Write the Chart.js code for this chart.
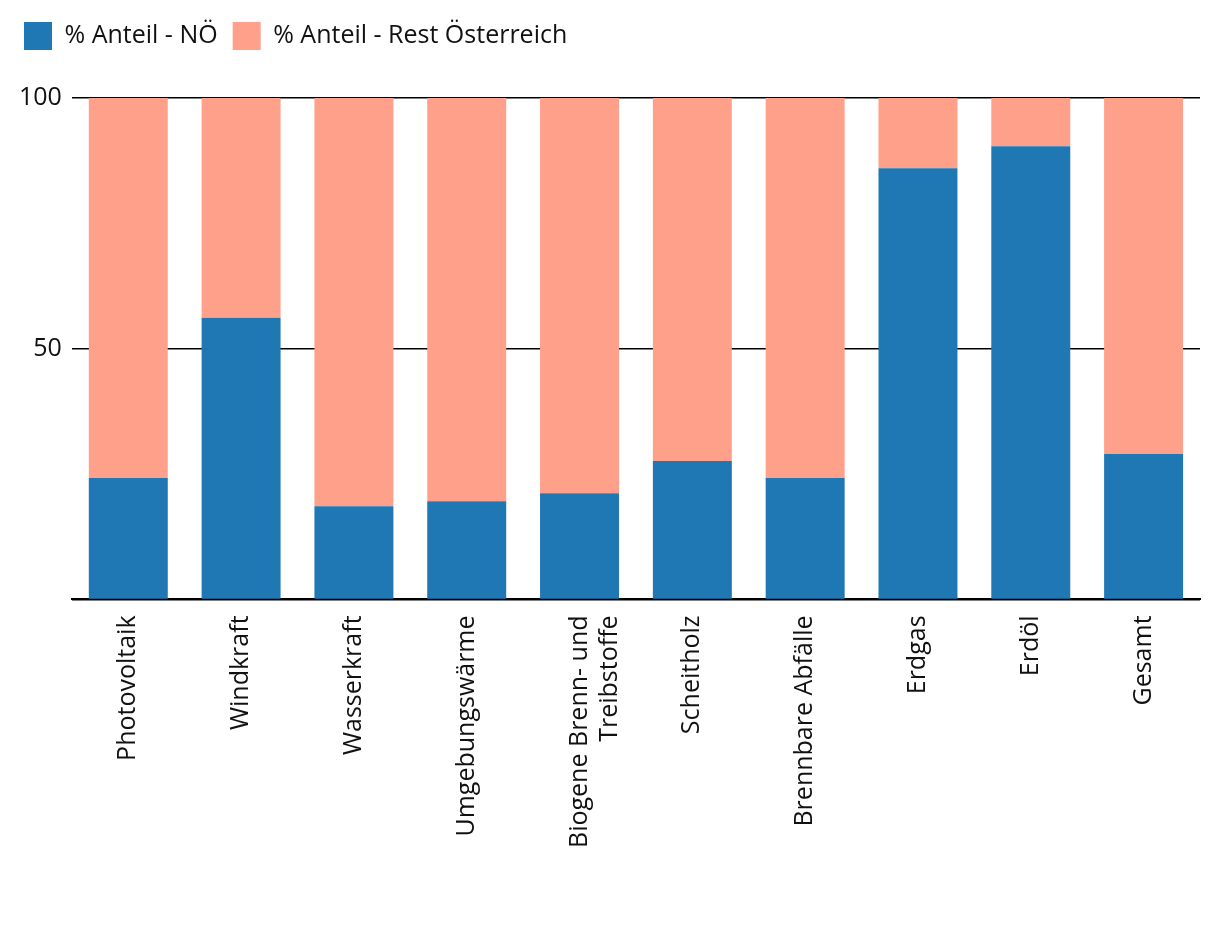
<!DOCTYPE html>
<html>
<head>
<meta charset="utf-8">
<script src="https://cdn.jsdelivr.net/npm/chart.js@4"></script>
<style>
html,body{margin:0;padding:0;background:#fff;}
#wrap{width:1220px;height:942px;}
</style>
</head>
<body>
<div id="wrap"><canvas id="c" width="1220" height="942"></canvas></div>
<script>
const categories = ["Photovoltaik","Windkraft","Wasserkraft","Umgebungswärme",["Biogene Brenn- und","Treibstoffe"],"Scheitholz","Brennbare Abfälle","Erdgas","Erdöl","Gesamt"];
const anteilNOE = [24.2, 56.2, 18.6, 19.6, 21.2, 27.6, 24.2, 86.0, 90.4, 29.0];
const anteilRest = [75.8, 43.8, 81.4, 80.4, 78.8, 72.4, 75.8, 14.0, 9.6, 71.0];
const yTicks = [0, 50, 100];

Chart.defaults.font.family = "'Open Sans', 'Noto Sans', sans-serif";
Chart.defaults.font.size = 25;
Chart.defaults.color = "#111";

const legendMargin = {
  id: 'legendMargin',
  beforeInit(chart) {
    const orig = chart.legend.fit;
    chart.legend.fit = function() { orig.bind(chart.legend)(); this.height += 38; };
  }
};

new Chart(document.getElementById('c'), {
  type: 'bar',
  data: {
    labels: categories,
    datasets: [
      {label: "% Anteil - NÖ", data: anteilNOE, backgroundColor: "#1f77b4", categoryPercentage: 0.7, barPercentage: 1.0},
      {label: "% Anteil - Rest Österreich", data: anteilRest, backgroundColor: "#ffa08a", categoryPercentage: 0.7, barPercentage: 1.0}
    ]
  },
  plugins: [legendMargin],
  options: {
    responsive: false,
    animation: false,
    layout: {padding: {left: 9, right: 20, top: 7, bottom: 86}},
    plugins: {
      legend: {
        position: 'top', align: 'start',
        labels: {boxWidth: 28, boxHeight: 28, padding: 15, font: {size: 25}}
      },
      tooltip: {enabled: false}
    },
    scales: {
      x: {
        stacked: true,
        grid: {display: false},
        border: {display: true, color: "#000", width: 2},
        ticks: {maxRotation: 90, minRotation: 90, padding: 8, font: {size: 25}}
      },
      y: {
        stacked: true,
        min: 0, max: 100,
        afterBuildTicks: (ax) => { ax.ticks = yTicks.map(v => ({value: v})); },
        grid: {color: "#000", lineWidth: 1.5, drawTicks: false},
        border: {display: false},
        ticks: {padding: 10, font: {size: 25}, callback: (v) => v === 0 ? "" : v}
      }
    }
  }
});
</script>
</body>
</html>
